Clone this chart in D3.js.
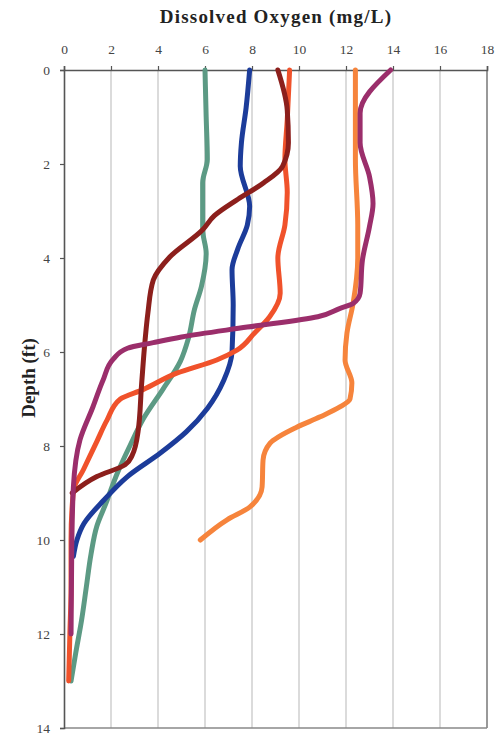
<!DOCTYPE html>
<html><head><meta charset="utf-8">
<script src="https://cdn.jsdelivr.net/npm/d3@7"></script>
<style>body{margin:0;background:#fff}svg{display:block}</style>
</head><body>
<script>
const xTicks = [0,2,4,6,8,10,12,14,16,18];
const yTicks = [0,2,4,6,8,10,12,14];

const tealDepth = [0,1,1.9,2.4,3.4,3.9,4.6,5.1,5.7,6.2,6.8,7.4,8.0,8.6,9.2,9.7,10.3,11.0,11.7,12.4,13.0];
const tealDO    = [6.0,6.05,6.1,5.9,5.9,6.05,5.85,5.55,5.3,4.95,4.2,3.4,2.8,2.25,1.8,1.4,1.15,0.95,0.75,0.5,0.3];

const blueDepth = [0,0.8,1.55,2.05,2.9,3.3,3.8,4.25,5.0,6.0,6.6,7.2,7.7,8.15,8.65,9.15,9.65,10.0,10.35];
const blueDO    = [7.9,7.75,7.55,7.5,7.9,7.8,7.4,7.15,7.2,7.15,6.8,6.1,5.2,4.1,2.7,1.7,0.85,0.55,0.4];

const redDepth = [0,1.06,1.9,2.6,3.3,4.0,4.75,5.25,5.6,5.96,6.17,6.45,6.8,7.0,7.45,7.9,8.5,8.95,10.0,11.0,12.0,13.0];
const redDO    = [9.6,9.5,9.4,9.5,9.4,9.1,9.2,8.75,8.1,7.36,6.5,4.8,3.36,2.4,1.83,1.4,0.83,0.4,0.3,0.3,0.25,0.2];

const maroonDepth = [0,0.85,1.55,2.05,2.4,2.75,3.1,3.4,3.98,4.47,5.17,5.75,6.7,7.7,8.2,8.4,8.65,9.0];
const maroonDO    = [9.1,9.5,9.55,9.3,8.5,7.4,6.4,5.9,4.5,3.8,3.57,3.45,3.3,3.15,2.9,2.6,1.4,0.35];

const orangeDepth = [0,1.9,3.3,4.0,4.97,5.6,6.17,6.66,7.0,7.17,7.38,7.6,7.94,8.3,8.87,9.3,9.57,10.0];
const orangeDO    = [12.4,12.4,12.5,12.5,12.3,12.04,11.96,12.25,12.17,11.74,10.9,9.9,8.77,8.47,8.43,7.9,6.94,5.8];

const magentaDepth = [0,0.92,1.55,2.27,2.84,3.33,4.04,4.75,4.97,5.07,5.25,5.47,5.68,5.8,5.92,6.15,6.6,7.17,7.87,8.87,10.15,12.0];
const magentaDO    = [13.9,12.6,12.6,13.0,13.15,13.0,12.7,12.6,12.3,11.75,10.8,7.8,5.0,3.8,2.7,2.1,1.66,1.23,0.68,0.4,0.33,0.3];

const series = [
  {name:"teal", depth:tealDepth, val:tealDO, color:"#5c9a84"},
  {name:"blue", depth:blueDepth, val:blueDO, color:"#1c3c9a"},
  {name:"red", depth:redDepth, val:redDO, color:"#f0522b"},
  {name:"maroon", depth:maroonDepth, val:maroonDO, color:"#8c1f1c"},
  {name:"orange", depth:orangeDepth, val:orangeDO, color:"#f6843c"},
  {name:"magenta", depth:magentaDepth, val:magentaDO, color:"#9b2e6b"}
];

const W = 496, H = 740;
const L = 64, R = 487, T = 70, B = 728;

const svg = d3.select("body").append("svg").attr("width", W).attr("height", H);

const x = d3.scaleLinear().domain([0,18]).range([L,R]);
const y = d3.scaleLinear().domain([0,14]).range([T,B]);

// vertical gridlines
svg.append("g").selectAll("line").data(xTicks.filter(t => t>0 && t<18)).join("line")
  .attr("x1", d=>x(d)).attr("x2", d=>x(d)).attr("y1", T).attr("y2", B)
  .attr("stroke", "#c8c8c8").attr("stroke-width", 1.3);

// frame right and bottom
svg.append("line").attr("x1", R).attr("x2", R).attr("y1", T).attr("y2", B).attr("stroke", "#777").attr("stroke-width", 1.5);
svg.append("line").attr("x1", L).attr("x2", R).attr("y1", B).attr("y2", B).attr("stroke", "#888").attr("stroke-width", 1.3);

const tickFont = "'Liberation Serif', 'DejaVu Serif', serif";

// top axis
const xAxis = d3.axisTop(x).tickValues(xTicks).tickSize(4).tickPadding(12).tickFormat(d3.format("d"));
const gx = svg.append("g").attr("transform", `translate(0,${T})`).call(xAxis);
gx.select(".domain").attr("stroke", "#555").attr("stroke-width", 1.6);
gx.selectAll(".tick line").attr("stroke", "#555").attr("stroke-width", 1.2);
gx.selectAll(".tick text").attr("font-family", tickFont)
  .attr("font-size", 13.5).attr("fill", "#444");

// left axis
const yAxis = d3.axisLeft(y).tickValues(yTicks).tickSize(4).tickPadding(10).tickFormat(d3.format("d"));
const gy = svg.append("g").attr("transform", `translate(${L},0)`).call(yAxis);
gy.select(".domain").attr("stroke", "#555").attr("stroke-width", 1.6);
gy.selectAll(".tick line").attr("stroke", "#555").attr("stroke-width", 1.2);
gy.selectAll(".tick text").attr("font-family", tickFont)
  .attr("font-size", 13.5).attr("fill", "#444");

// lines
const line = d3.line().x(d=>x(d[1])).y(d=>y(d[0])).curve(d3.curveMonotoneY);
svg.append("g").selectAll("path").data(series).join("path")
  .attr("d", s => line(s.depth.map((dd,i)=>[dd, s.val[i]])))
  .attr("fill", "none").attr("stroke", s=>s.color).attr("stroke-width", 5)
  .attr("stroke-linejoin", "round").attr("stroke-linecap", "round");

// titles
svg.append("text").attr("x", 276).attr("y", 23).attr("text-anchor", "middle")
  .attr("font-family", tickFont).attr("font-weight", "bold")
  .attr("font-size", 19).attr("letter-spacing", 1.2).attr("fill", "#222")
  .text("Dissolved Oxygen (mg/L)");

svg.append("text").attr("transform", "translate(35,378) rotate(-90)").attr("text-anchor", "middle")
  .attr("font-family", tickFont).attr("font-weight", "bold")
  .attr("font-size", 19).attr("fill", "#222")
  .text("Depth (ft)");
</script>
</body></html>
